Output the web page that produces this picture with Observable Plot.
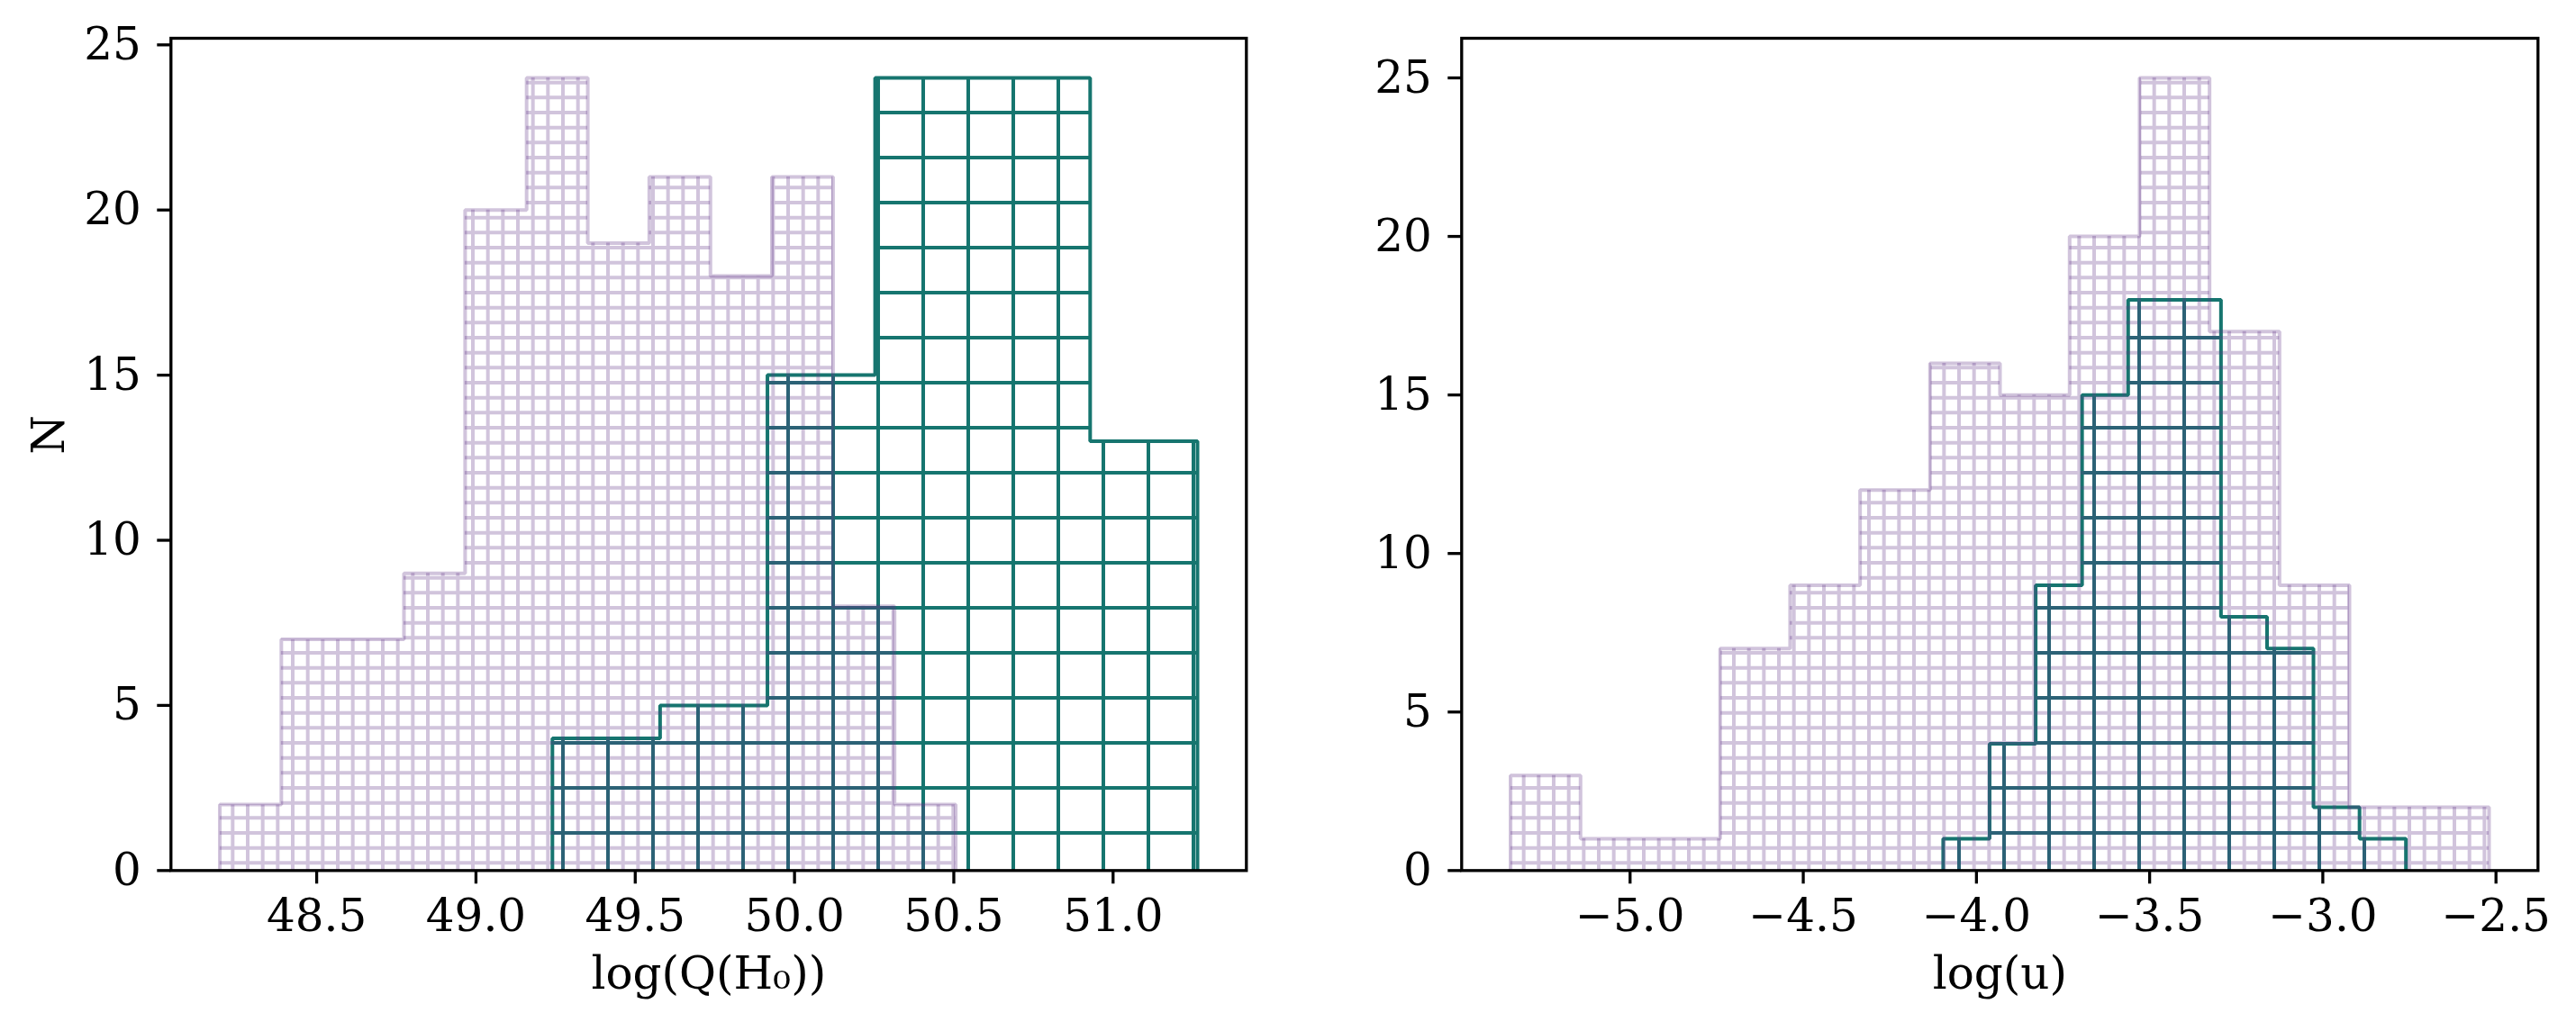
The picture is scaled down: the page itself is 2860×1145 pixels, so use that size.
<!DOCTYPE html>
<html><head><meta charset="utf-8">
<script src="https://cdn.jsdelivr.net/npm/d3@7"></script>
<script src="https://cdn.jsdelivr.net/npm/@observablehq/plot@0.6"></script>
<style>
html,body{margin:0;padding:0;background:#fff;}
#wrap{display:flex;width:2860px;height:1145px;overflow:hidden;}
#wrap svg{flex:none;display:block;}
</style></head><body><div id="wrap"></div>
<script>
// ---- Left panel: log(Q(H0)) ----
const qhAllEdges  = [48.196, 48.389, 48.581, 48.774, 48.966, 49.159, 49.351, 49.544, 49.736, 49.929, 50.121, 50.314, 50.506];
const qhAllCounts = [2, 7, 7, 9, 20, 24, 19, 21, 18, 21, 8, 2];
const qhSubEdges  = [49.240, 49.578, 49.915, 50.253, 50.590, 50.928, 51.265];
const qhSubCounts = [4, 5, 15, 24, 24, 13];
const qhTicks = [48.5, 49.0, 49.5, 50.0, 50.5, 51.0];

// ---- Right panel: log(u) ----
const uAllEdges  = [-5.345, -5.143, -4.941, -4.740, -4.538, -4.336, -4.134, -3.932, -3.731, -3.529, -3.327, -3.125, -2.923, -2.722, -2.520];
const uAllCounts = [3, 1, 1, 7, 9, 12, 16, 15, 20, 25, 17, 9, 2, 2];
const uSubEdges  = [-4.096, -3.962, -3.829, -3.695, -3.562, -3.428, -3.294, -3.161, -3.027, -2.894, -2.760];
const uSubCounts = [1, 4, 9, 15, 18, 18, 8, 7, 2, 1];
const uTicks = [-5.0, -4.5, -4.0, -3.5, -3.0, -2.5];

const countTicks = [0, 5, 10, 15, 20, 25];
const xLabels = ["log(Q(H\u2080))", "log(u)"];
const yLabel = "N";

const PURPLE = "#603485", PURPLE_OP = 0.29, TEAL = "#16756f";
const LW = 3.3;      // axes lines
const HLW = 4.0;     // hatch and histogram outlines

function stepPoints(edges, counts) {
  return edges.map((e, i) => ({x: e, y: counts[Math.min(i, counts.length - 1)]}));
}
function outlinePoints(edges, counts) {
  return [{x: edges[0], y: 0}, ...stepPoints(edges, counts), {x: edges[edges.length - 1], y: 0}];
}

function panel({allEdges, allCounts, subEdges, subCounts, xTicks, xLabel, showY, marginLeft, marginRight, patX, id}) {
  const lo = Math.min(allEdges[0], subEdges[0]);
  const hi = Math.max(allEdges[allEdges.length - 1], subEdges[subEdges.length - 1]);
  const pad = 0.05 * (hi - lo);
  const yMax = 1.05 * Math.max(...allCounts, ...subCounts);
  const fmt = d3.format(".1f");
  const svg = Plot.plot({
    width: 1430, height: 1145,
    marginTop: 42, marginBottom: 178.7, marginLeft, marginRight,
    style: {fontFamily: "'DejaVu Serif', serif", fontSize: "50px", color: "black", background: "white"},
    x: {domain: [lo - pad, hi + pad], label: null},
    y: {domain: [0, yMax], label: null},
    marks: [
      Plot.areaY(stepPoints(subEdges, subCounts), {x: "x", y: "y", curve: "step-after", fill: `url(#${id}-teal)`}),
      Plot.line(outlinePoints(subEdges, subCounts), {x: "x", y: "y", curve: "step-after", stroke: TEAL, strokeWidth: HLW, strokeLinejoin: "miter", strokeLinecap: "butt"}),
      Plot.areaY(stepPoints(allEdges, allCounts), {x: "x", y: "y", curve: "step-after", fill: `url(#${id}-purple)`}),
      Plot.line(outlinePoints(allEdges, allCounts), {x: "x", y: "y", curve: "step-after", stroke: PURPLE, strokeOpacity: PURPLE_OP, strokeWidth: HLW, strokeLinejoin: "miter", strokeLinecap: "butt"}),
      Plot.axisX({ticks: xTicks, tickFormat: fmt, tickSize: 15, tickPadding: 17, strokeWidth: LW, fontSize: 50, label: null}),
      Plot.axisY({ticks: countTicks, tickFormat: d3.format("d"), tickSize: 15, tickPadding: 18, strokeWidth: LW, fontSize: 50, label: null}),
      Plot.frame({stroke: "black", strokeWidth: LW}),
      Plot.text([xLabel], {text: d => d, frameAnchor: "bottom", dy: 114.7, fontSize: 50, lineAnchor: "middle"}),
      showY ? Plot.text([yLabel], {text: d => d, frameAnchor: "left", dx: -135.3, rotate: -90, fontSize: 50, lineAnchor: "middle"}) : null
    ]
  });
  const defs = d3.select(svg).insert("defs", ":first-child");
  const pt = defs.append("pattern").attr("id", `${id}-teal`).attr("patternUnits", "userSpaceOnUse")
    .attr("x", patX).attr("y", 0).attr("width", 50).attr("height", 50);
  pt.append("path").attr("d", "M25,0V50M0,25H50").attr("fill", "none").attr("stroke", TEAL).attr("stroke-width", HLW);
  const pp = defs.append("pattern").attr("id", `${id}-purple`).attr("patternUnits", "userSpaceOnUse")
    .attr("x", patX).attr("y", 0).attr("width", 50).attr("height", 50);
  pp.append("path").attr("d", "M8.333,0V50M25,0V50M41.667,0V50M0,8.333H50M0,25H50M0,41.667H50")
    .attr("fill", "none").attr("stroke", PURPLE).attr("stroke-opacity", PURPLE_OP).attr("stroke-width", HLW);
  return svg;
}

const wrap = document.getElementById("wrap");
wrap.appendChild(panel({allEdges: qhAllEdges, allCounts: qhAllCounts, subEdges: qhSubEdges, subCounts: qhSubCounts,
  xTicks: qhTicks, xLabel: xLabels[0], showY: true, marginLeft: 189.3, marginRight: 46.7, patX: 0, id: "qh"}));
wrap.appendChild(panel({allEdges: uAllEdges, allCounts: uAllCounts, subEdges: uSubEdges, subCounts: uSubCounts,
  xTicks: uTicks, xLabel: xLabels[1], showY: false, marginLeft: 192.3, marginRight: 42.7, patX: 20, id: "u"}));
</script></body></html>
